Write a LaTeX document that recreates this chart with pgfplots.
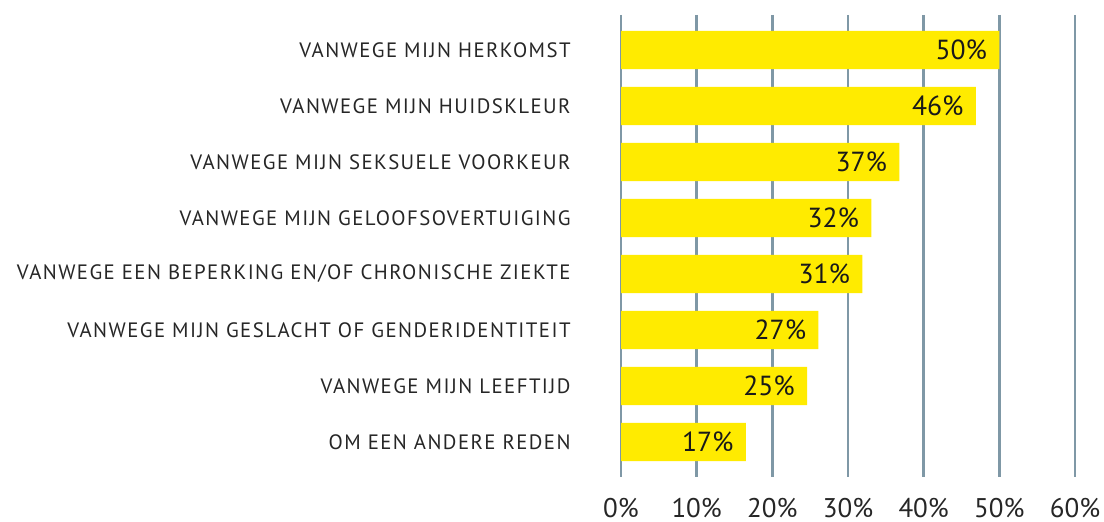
\documentclass[border=0pt]{standalone}
\usepackage{pgfplots}
\pgfplotsset{compat=1.18}
\usepackage{fontspec}
\setmainfont{PT Sans}
\newfontfamily\catfont[LetterSpace=6.9]{PT Sans}
\definecolor{baryellow}{HTML}{FFEB00}
\definecolor{gridc}{HTML}{7F98A6}
\begin{document}
\begin{tikzpicture}
\begin{axis}[
  scale only axis, width=227pt, height=231pt,
  xmin=0, xmax=60, ymin=-0.625, ymax=7.625, y dir=reverse,
  axis line style={draw=none}, major tick length=0pt,
  xmajorgrids, grid style={gridc, line width=1.3pt},
  xtick={0,10,20,30,40,50,60},
  xticklabels={0\%,10\%,20\%,30\%,40\%,50\%,60\%},
  xticklabel style={inner sep=0pt, anchor=north, yshift=-10.3pt, font=\fontsize{13.5}{15}\selectfont, text=black!85},
  ytick={0,1,2,3,4,5,6,7},
  yticklabels={VANWEGE MIJN HERKOMST, VANWEGE MIJN HUIDSKLEUR, VANWEGE MIJN SEKSUELE VOORKEUR, VANWEGE MIJN GELOOFSOVERTUIGING, VANWEGE EEN BEPERKING EN/OF CHRONISCHE ZIEKTE, VANWEGE MIJN GESLACHT OF GENDERIDENTITEIT, VANWEGE MIJN LEEFTIJD, OM EEN ANDERE REDEN},
  yticklabel style={inner sep=0pt, anchor=east, xshift=-25pt, font=\catfont\fontsize{10.4}{12}\selectfont, text=black!85},
  xbar, bar width=0.68,
  point meta=explicit symbolic,
  nodes near coords, nodes near coords align={anchor=east},
  every node near coord/.append style={font=\fontsize{13.8}{15}\selectfont, text=black!90, xshift=-6pt, inner sep=0pt},
  clip=false,
]
\addplot[fill=baryellow, draw=none] coordinates {
  (50.0,0) [50\%]
  (46.9,1) [46\%]
  (36.8,2) [37\%]
  (33.1,3) [32\%]
  (31.9,4) [31\%]
  (26.1,5) [27\%]
  (24.6,6) [25\%]
  (16.5,7) [17\%]
};
\end{axis}
\path ([shift={(-310.5pt,-22.5pt)}]current axis.south west) rectangle ([shift={(14.5pt,7.5pt)}]current axis.north east);
\end{tikzpicture}
\end{document}
